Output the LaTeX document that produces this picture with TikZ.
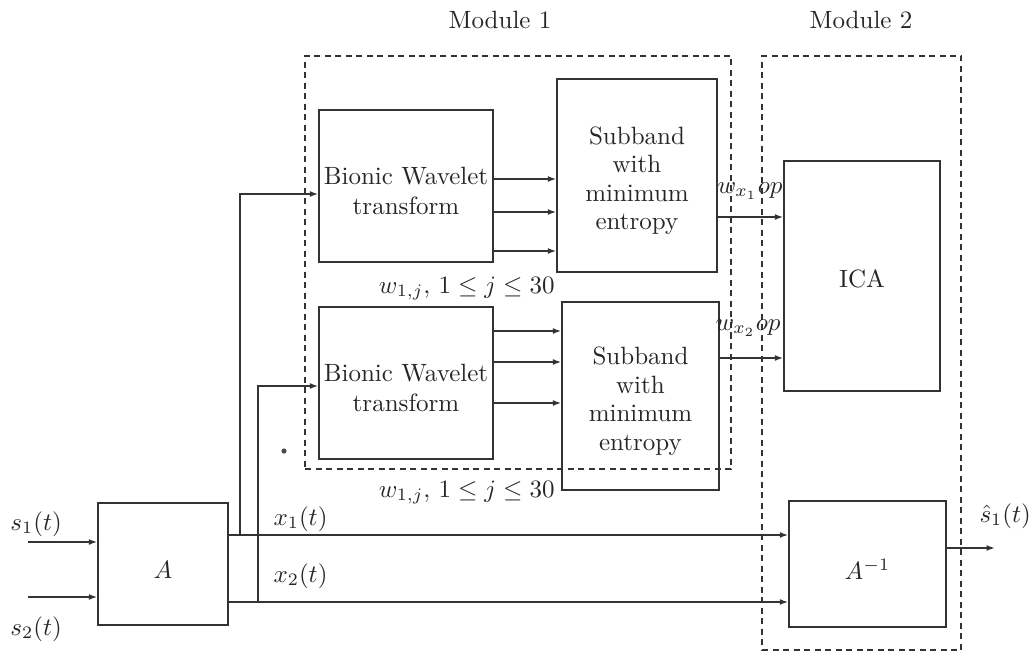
\documentclass[tikz,border=0pt]{standalone}
\usetikzlibrary{arrows.meta,fit}
\begin{document}
\begin{tikzpicture}[x=0.4pt,y=-0.4pt,
  every node/.style={text=black!85},
  box/.style={draw=black!80, line width=0.6pt, inner sep=0pt},
  modbox/.style={draw=black!80, line width=0.6pt, dash pattern=on 2.4pt off 1.8pt, inner sep=0pt},
  arr/.style={draw=black!80, line width=0.6pt, -{Latex[length=3.4pt,width=2.4pt]}},
  lbl/.style={inner sep=0pt},
  boxtext/.style={inner sep=0pt, align=center},
  tight/.style={font={\fontsize{10}{11.4}\selectfont}}]
\useasboundingbox (0,0) rectangle (1032,660);
% module frames
\node[modbox, fit={(305,56) (731,469)}] (m1) {};
\node[modbox, fit={(762,56) (961,650)}] (m2) {};
\node[lbl, anchor=base] (m1l) at (500,28) {Module 1};
\node[lbl, anchor=base] (m2l) at (861,28) {Module 2};
% blocks
\node[box, fit={(98,503) (228,625)}] (A) {};
\node[box, fit={(319,110) (493,262)}] (bwt1) {};
\node[box, fit={(319,307) (493,459)}] (bwt2) {};
\node[box, fit={(557,79) (717,272)}] (sb1) {};
\node[box, fit={(562,302) (719,490)}] (sb2) {};
\node[box, fit={(784,161) (940,391)}] (ica) {};
\node[box, fit={(789,501) (946,627)}] (Ainv) {};
% block texts
\node[boxtext] (At) at ([yshift=-2.5pt]A.center) {$A$};
\node[boxtext] (bwt1t) at ([yshift=-2pt]bwt1.center) {Bionic Wavelet\\transform};
\node[boxtext] (bwt2t) at ([yshift=-2pt]bwt2.center) {Bionic Wavelet\\transform};
\node[boxtext, tight] (sb1t) at ([yshift=-2pt]sb1.center) {Subband\\with\\minimum\\entropy};
\node[boxtext, tight] (sb2t) at ([yshift=-2pt]sb2.center) {Subband\\with\\minimum\\entropy};
\node[boxtext] (icat) at ([yshift=-1.2pt]ica.center) {ICA};
\node[boxtext] (Ainvt) at ([yshift=-2pt]Ainv.center) {$A^{-1}$};
% labels
\node[lbl, anchor=base west] (s1l) at (10,530) {$s_1(t)$};
\node[lbl, anchor=base west] (s2l) at (10,635) {$s_2(t)$};
\node[lbl, anchor=base west] (x1l) at (273,525) {$x_1(t)$};
\node[lbl, anchor=base west] (x2l) at (273,582) {$x_2(t)$};
\node[lbl, anchor=base east] (w1l) at (555,293) {$w_{1,j},\,1\le j\le 30$};
\node[lbl, anchor=base east] (w2l) at (555,497) {$w_{1,j},\,1\le j\le 30$};
\node[lbl, anchor=base west] (wx1) at (717,193) {$w_{x_1}op$};
\node[lbl, anchor=base west] (wx2) at (715,330) {$w_{x_2}op$};
\node[lbl, anchor=base west] (sh) at (979,522) {$\hat{s}_1(t)$};
\fill[black!70] (284,451) circle (2.6);
% coordinates
\coordinate (s1in) at (28,542);
\coordinate (s2in) at (28,597);
\coordinate (j1) at (240,535);
\coordinate (j2) at (258,602);
\coordinate (out) at (995,548);
% connectors
\draw[arr] (s1in) -- (A.west |- s1in);
\draw[arr] (s2in) -- (A.west |- s2in);
\draw[arr] (A.east |- j1) -- (Ainv.west |- j1);
\draw[arr] (A.east |- j2) -- (Ainv.west |- j2);
\draw[arr] (j1) |- (bwt1.west |- 0,194);
\draw[arr] (j2) |- (bwt2.west |- 0,386);
\foreach \yy in {179,212,251} \draw[arr] (bwt1.east |- 0,\yy) -- (sb1.west |- 0,\yy);
\foreach \yy in {331,362,403} \draw[arr] (bwt2.east |- 0,\yy) -- (sb2.west |- 0,\yy);
\draw[arr] (sb1.east |- 0,217) -- (ica.west |- 0,217);
\draw[arr] (sb2.east |- 0,358) -- (ica.west |- 0,358);
\draw[arr] (Ainv.east |- out) -- (out);
\end{tikzpicture}
\end{document}
